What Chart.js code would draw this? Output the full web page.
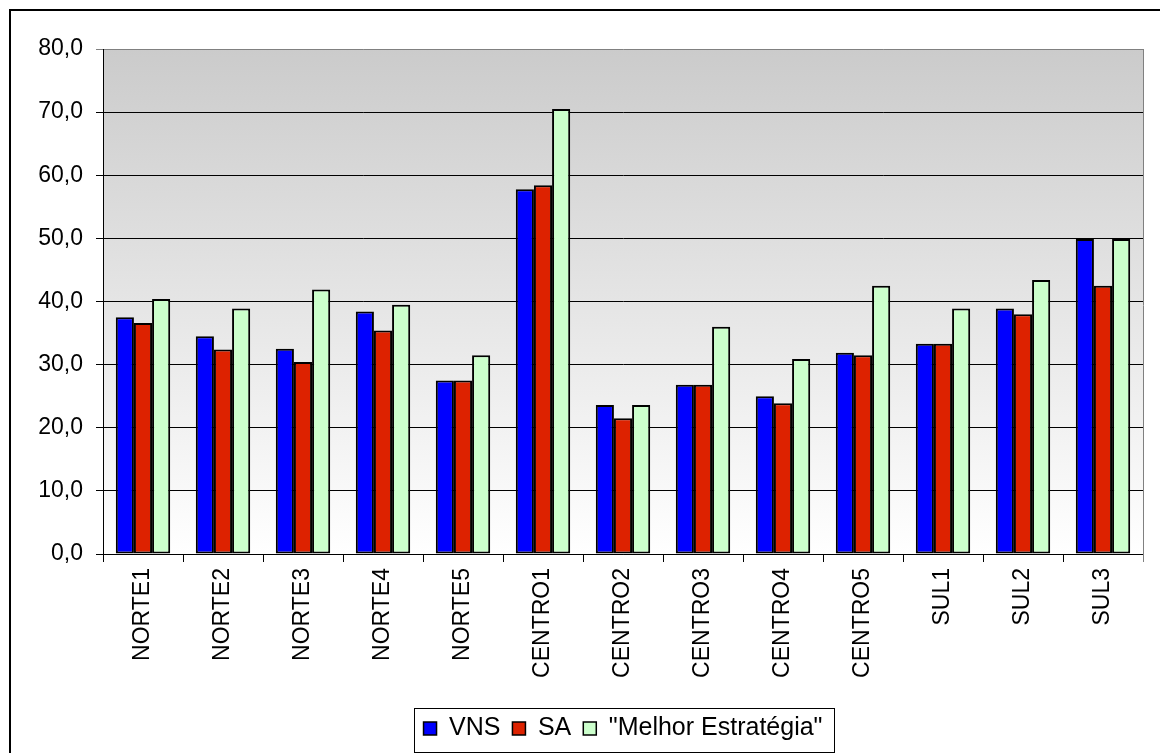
<!DOCTYPE html>
<html>
<head>
<meta charset="utf-8">
<script src="https://cdn.jsdelivr.net/npm/chart.js@4.4.1/dist/chart.umd.min.js"></script>
<style>
  html, body { margin: 0; padding: 0; background: #fff; }
  #wrap { width: 1160px; height: 753px; position: relative; }
</style>
</head>
<body>
<div id="wrap"><canvas id="chart"></canvas></div>
<script>
// dados
const regioes = ['NORTE1', 'NORTE2', 'NORTE3', 'NORTE4', 'NORTE5', 'CENTRO1', 'CENTRO2',
    'CENTRO3', 'CENTRO4', 'CENTRO5', 'SUL1', 'SUL2', 'SUL3'];
const vns = [37.5, 34.5, 32.5, 38.4, 27.5, 57.8, 23.6, 26.8, 25.0, 31.9, 33.3, 38.9, 49.9];
const sa = [36.6, 32.4, 30.4, 35.4, 27.5, 58.4, 21.5, 26.8, 23.9, 31.5, 33.3, 38.0, 42.5];
const melhor = [40.4, 38.9, 41.9, 39.5, 31.5, 70.5, 23.6, 36.0, 30.9, 42.5, 38.9, 43.4, 49.9];
const yMin = 0;
const yMax = 80;
const yStep = 10;

const FONT = "'Liberation Sans', Arial, sans-serif";

// fundo em degradê da área do gráfico + moldura
const plotBackground = {
    id: 'plotBackground',
    beforeDraw(chart) {
        const { ctx, chartArea: a } = chart;
        ctx.save();
        ctx.fillStyle = '#fff';
        ctx.fillRect(0, 0, chart.width, chart.height);
        const grad = ctx.createLinearGradient(0, a.top, 0, a.bottom);
        grad.addColorStop(0, '#cbcbcb');
        grad.addColorStop(1, '#ffffff');
        ctx.fillStyle = grad;
        ctx.fillRect(a.left, a.top, a.right - a.left, a.bottom - a.top);
        ctx.strokeStyle = '#000';
        ctx.lineWidth = 2;
        ctx.strokeRect(10, 10, chart.width + 40, chart.height + 40);
        ctx.restore();
    },
    beforeDatasetsDraw(chart) {
        const { ctx, chartArea: a } = chart;
        ctx.save();
        ctx.strokeStyle = '#808080';
        ctx.lineWidth = 1;
        ctx.beginPath();
        ctx.moveTo(a.right + 0.5, a.top);
        ctx.lineTo(a.right + 0.5, a.bottom + 8);
        ctx.stroke();
        ctx.restore();
    },
    afterDraw(chart) {
        const boxes = chart.legend && chart.legend.legendHitBoxes;
        if (!boxes || !boxes.length) return;
        const left = Math.min(...boxes.map(b => b.left));
        const right = Math.max(...boxes.map(b => b.left + b.width));
        const top = Math.min(...boxes.map(b => b.top));
        const bottom = Math.max(...boxes.map(b => b.top + b.height));
        const ctx = chart.ctx;
        ctx.save();
        ctx.strokeStyle = '#000';
        ctx.lineWidth = 1;
        ctx.strokeRect(Math.round(left - 10) + 0.5, Math.round(top - 8) + 0.5,
            Math.round(right - left + 21), Math.round(bottom - top + 19));
        ctx.restore();
    }
};

const ctx = document.getElementById('chart').getContext('2d');
new Chart(ctx, {
    type: 'bar',
    data: {
        labels: regioes,
        datasets: [
            { label: 'VNS', data: vns, backgroundColor: '#0000ff' },
            { label: 'SA', data: sa, backgroundColor: '#dd2200' },
            { label: '"Melhor Estratégia"', data: melhor, backgroundColor: '#ccffcc' }
        ].map(ds => Object.assign(ds, {
            borderColor: '#000',
            borderWidth: 2,
            borderSkipped: false,
            barPercentage: 1,
            categoryPercentage: 0.68
        }))
    },
    options: {
        responsive: true,
        maintainAspectRatio: false,
        animation: false,
        layout: { padding: { top: 49, right: 17, bottom: 2, left: 0 } },
        plugins: {
            tooltip: { enabled: false },
            legend: {
                position: 'bottom',
                fullSize: false,
                labels: {
                    font: { family: FONT, size: 25 },
                    color: '#000',
                    boxWidth: 13,
                    boxHeight: 13,
                    padding: 12,
                    generateLabels(chart) {
                        return chart.data.datasets.map((ds, i) => ({
                            text: ds.label,
                            fillStyle: ds.backgroundColor,
                            strokeStyle: '#000',
                            lineWidth: 1.5,
                            datasetIndex: i,
                            hidden: false
                        }));
                    }
                }
            }
        },
        scales: {
            x: {
                offset: true,
                grid: {
                    offset: true,
                    drawOnChartArea: false,
                    drawTicks: true,
                    tickLength: 8,
                    color: '#000'
                },
                border: { display: true, color: '#000', width: 1 },
                ticks: {
                    font: { family: FONT, size: 23 },
                    color: '#000',
                    minRotation: 90,
                    maxRotation: 90,
                    padding: 6,
                    autoSkip: false
                },
                afterFit(scale) { scale.height = 150; }
            },
            y: {
                min: yMin,
                max: yMax,
                grid: {
                    color: c => (c.tick && c.tick.value === yMax ? '#808080' : '#000'),
                    tickLength: 7,
                    lineWidth: 1
                },
                border: { display: true, color: '#000', width: 1 },
                ticks: {
                    stepSize: yStep,
                    font: { family: FONT, size: 23 },
                    color: '#000',
                    padding: 13,
                    callback: v => v.toFixed(1).replace('.', ',')
                },
                afterFit(scale) { scale.width = 103; }
            }
        }
    },
    plugins: [plotBackground]
});
</script>
</body>
</html>
